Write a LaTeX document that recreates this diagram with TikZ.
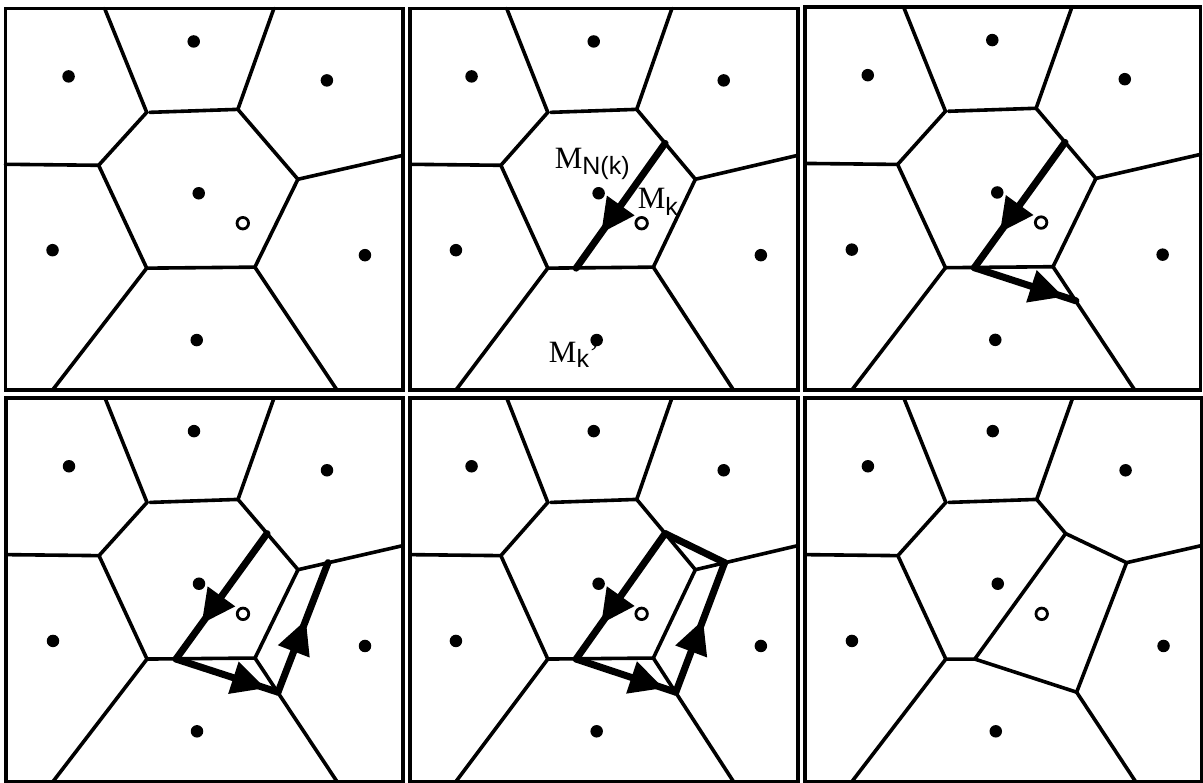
\documentclass[tikz,border=0pt]{standalone}
\usepackage{fontspec}
\setmainfont{Liberation Serif}
\newfontfamily\subsans{Liberation Sans}
\usetikzlibrary{arrows.meta,decorations.markings}

\tikzset{
  vor/.style={line width=3.6pt, line cap=round},
  panelframe/.style={line width=3.5pt},
  sitedot/.style={circle, fill=black, inner sep=0pt, minimum size=12.5pt},
  newsite/.style={circle, draw=black, line width=2.8pt, fill=white, inner sep=0pt, minimum size=11.5pt},
  movepath/.style={line width=7pt, line cap=round},
  movearrow/.style={movepath, postaction={decorate},
    decoration={markings, mark=at position #1 with {\arrow{Triangle[length=34pt,width=32pt]}}}},
  lbl/.style={inner sep=0pt, anchor=base west, font=\fontsize{31}{33}\selectfont},
}

% local geometry of one panel (397 x 382 units, y downwards)
\newcommand\vorpoints{%
  \coordinate (A)  at (99,0);
  \coordinate (B)  at (268,0);
  \coordinate (P1) at (141,104);
  \coordinate (P1g) at (144,104);
  \coordinate (P2) at (232,101);
  \coordinate (P3) at (93,157);
  \coordinate (P4) at (292,171);
  \coordinate (P5) at (141,260);
  \coordinate (P6) at (249,259);
  \coordinate (L)  at (0,156);
  \coordinate (R)  at (397,147);
  \coordinate (BL) at (47,382);
  \coordinate (BR) at (331,382);
  \coordinate (Q1) at (261,135);
  \coordinate (Q2) at (170,260);
  \coordinate (Q3) at (272,293);
  \coordinate (Q4) at (322,164);
  \draw[panelframe] (0,0) rectangle (397,382);
}
\newcommand\vorsites{%
  \node[sitedot] (d1) at (63,68) {};
  \node[sitedot] (d2) at (188,33) {};
  \node[sitedot] (d3) at (321,72) {};
  \node[sitedot] (d4) at (193,185) {};
  \node[sitedot] (d5) at (47,242) {};
  \node[sitedot] (d6) at (359,247) {};
  \node[sitedot] (d7) at (191,332) {};
  \node[newsite] (o)  at (237,215) {};
}
\newcommand\voredges{%
  \draw[vor] (A) -- (P1) -- (P3) -- (L);
  \draw[vor] (P1g) -- (P2);
  \draw[vor] (B) -- (P2) -- (P4) -- (R);
  \draw[vor] (P4) -- (P6) -- (P5) -- (P3);
  \draw[vor] (P5) -- (BL);
  \draw[vor] (P6) -- (BR);
}
\newcommand\vpanel[5]{%
  \begin{scope}[shift={(#1,#2)}, xscale=#3/397, yscale=#4/382]
    \vorpoints
    #5
    \vorsites
  \end{scope}}

\begin{document}
\begin{tikzpicture}[x=1pt,y=-1pt]
\useasboundingbox (0,0) rectangle (1203,783);
\fill[white] (0,0) rectangle (1203,783);

% panel 1
\vpanel{5.5}{8.5}{397.5}{381.5}{\voredges}

% panel 2
\vpanel{410}{8.5}{388}{381.5}{%
  \voredges
  \draw[movearrow=0.72] (Q1) -- (Q2);
  \node[lbl] (mnk) at (148,160) {M\raisebox{-6pt}{\subsans\fontsize{25}{27}\selectfont N(k)}};
  \node[lbl] (mk) at (233,200) {M\raisebox{-7pt}{\subsans\fontsize{25}{27}\selectfont k}};
  \node[lbl] (mkp) at (142,354) {M\raisebox{-5pt}{\subsans\fontsize{25}{27}\selectfont k}\raisebox{-1pt}{'}};
}

% panel 3
\vpanel{805}{7}{395.5}{383}{%
  \voredges
  \draw[movearrow=0.72] (Q1) -- (Q2);
  \draw[movearrow=0.88] (Q2) -- (Q3);
}

% panel 4
\vpanel{6}{398}{397}{383.5}{%
  \voredges
  \draw[movearrow=0.72] (Q1) -- (Q2);
  \draw[movearrow=0.88] (Q2) -- (Q3);
  \draw[movearrow=0.56] (Q3) -- (Q4);
}

% panel 5
\vpanel{410}{398}{388}{383.5}{%
  \voredges
  \draw[movearrow=0.72] (Q1) -- (Q2);
  \draw[movearrow=0.88] (Q2) -- (Q3);
  \draw[movearrow=0.56] (Q3) -- (Q4);
  \draw[movepath] (Q4) -- (Q1);
}

% panel 6
\vpanel{805}{398}{396.5}{383.5}{%
  \draw[vor] (A) -- (P1) -- (P3) -- (L);
  \draw[vor] (P1g) -- (P2);
  \draw[vor] (B) -- (P2) -- (Q1) -- (Q4) -- (R);
  \draw[vor] (Q1) -- (Q2) -- (Q3) -- (Q4);
  \draw[vor] (Q2) -- (P5) -- (P3);
  \draw[vor] (P5) -- (BL);
  \draw[vor] (Q3) -- (BR);
}
\end{tikzpicture}
\end{document}
